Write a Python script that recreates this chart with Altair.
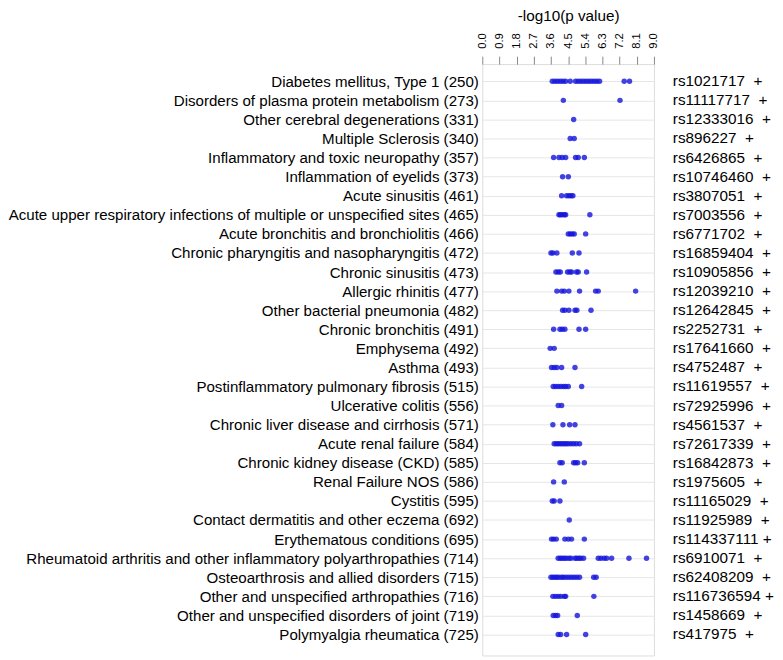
import altair as alt
import pandas as pd

diseases = [
    "Diabetes mellitus, Type 1 (250)",
    "Disorders of plasma protein metabolism (273)",
    "Other cerebral degenerations (331)",
    "Multiple Sclerosis (340)",
    "Inflammatory and toxic neuropathy (357)",
    "Inflammation of eyelids (373)",
    "Acute sinusitis (461)",
    "Acute upper respiratory infections of multiple or unspecified sites (465)",
    "Acute bronchitis and bronchiolitis (466)",
    "Chronic pharyngitis and nasopharyngitis (472)",
    "Chronic sinusitis (473)",
    "Allergic rhinitis (477)",
    "Other bacterial pneumonia (482)",
    "Chronic bronchitis (491)",
    "Emphysema (492)",
    "Asthma (493)",
    "Postinflammatory pulmonary fibrosis (515)",
    "Ulcerative colitis (556)",
    "Chronic liver disease and cirrhosis (571)",
    "Acute renal failure (584)",
    "Chronic kidney disease (CKD) (585)",
    "Renal Failure NOS (586)",
    "Cystitis (595)",
    "Contact dermatitis and other eczema (692)",
    "Erythematous conditions (695)",
    "Rheumatoid arthritis and other inflammatory polyarthropathies (714)",
    "Osteoarthrosis and allied disorders (715)",
    "Other and unspecified arthropathies (716)",
    "Other and unspecified disorders of joint (719)",
    "Polymyalgia rheumatica (725)",
]

snps = [
    "rs1021717", "rs11117717", "rs12333016", "rs896227", "rs6426865",
    "rs10746460", "rs3807051", "rs7003556", "rs6771702", "rs16859404",
    "rs10905856", "rs12039210", "rs12642845", "rs2252731", "rs17641660",
    "rs4752487", "rs11619557", "rs72925996", "rs4561537", "rs72617339",
    "rs16842873", "rs1975605", "rs11165029", "rs11925989", "rs114337111",
    "rs6910071", "rs62408209", "rs116736594", "rs1458669", "rs417975",
]

directions = ["+"] * 30

neg_log_p = [
    [3.67, 3.81, 3.95, 4.09, 4.23, 4.37, 4.61, 4.89, 5.03, 5.17, 5.31, 5.45, 5.59, 5.73, 5.87, 6.01, 6.15, 7.44, 7.72],
    [4.25, 7.22],
    [4.79],
    [4.61, 4.82],
    [3.74, 4.02, 4.19, 4.37, 4.89, 5.03, 5.35],
    [4.21, 4.51],
    [4.16, 4.42, 4.54, 4.65, 4.75],
    [4.02, 4.09, 4.19, 4.30, 4.37, 5.64],
    [4.51, 4.61, 4.72, 4.82, 5.42],
    [3.60, 3.70, 3.91, 4.72, 5.07],
    [3.86, 3.98, 4.09, 4.47, 4.59, 4.68, 4.94, 5.03, 5.47],
    [3.91, 4.16, 4.30, 4.54, 5.10, 5.94, 6.08, 8.04],
    [4.21, 4.33, 4.54, 4.86, 4.96, 5.70],
    [3.74, 4.07, 4.19, 4.33, 5.07, 5.42],
    [3.56, 3.77],
    [3.63, 3.77, 3.91, 4.16, 4.86],
    [3.72, 3.84, 3.98, 4.12, 4.26, 4.37, 4.51, 5.21],
    [3.98, 4.16],
    [3.70, 4.23, 4.58, 4.86],
    [3.77, 3.88, 3.98, 4.09, 4.19, 4.30, 4.40, 4.51, 4.65, 4.79, 4.93, 5.10],
    [4.07, 4.19, 4.79, 4.89, 5.00, 5.35],
    [3.74, 4.30],
    [3.67, 3.77, 4.07],
    [4.56],
    [3.63, 3.74, 3.88, 4.33, 4.51, 4.68, 5.35],
    [3.98, 4.09, 4.19, 4.30, 4.40, 4.54, 4.65, 4.86, 4.96, 5.07, 5.17, 5.31, 6.08, 6.22, 6.39, 6.52, 6.78, 7.69, 8.61],
    [3.60, 3.70, 3.81, 3.91, 4.02, 4.16, 4.26, 4.40, 4.54, 4.68, 4.82, 4.96, 5.10, 5.84, 5.97],
    [3.70, 3.84, 3.98, 4.12, 4.30, 4.37, 5.85],
    [3.72, 3.84, 3.95, 4.98],
    [3.98, 4.11, 4.42, 5.42],
]

tick_values = [0.0, 0.9, 1.8, 2.7, 3.6, 4.5, 5.4, 6.3, 7.2, 8.1, 9.0]

FONT = "Liberation Sans"

points = pd.DataFrame(
    [{"disease": d, "value": v} for d, vals in zip(diseases, neg_log_p) for v in vals]
)
labels = pd.DataFrame({
    "disease": diseases,
    "label": [
        s + ("\u00a0\u00a0" if len(s) <= 10 else "\u00a0") + sign
        for s, sign in zip(snps, directions)
    ],
})

y_enc = alt.Y(
    "disease:N",
    sort=diseases,
    scale=alt.Scale(type="point", padding=1.045, align=0.45),
    axis=alt.Axis(
        title=None, ticks=False, domain=False, grid=True, gridColor="#e6e6e6",
        labelFontSize=15.2, labelPadding=4, labelLimit=1000, labelColor="#000",
        labelFont=FONT,
    ),
)

dots = alt.Chart(points).mark_circle(size=30, color="#1414dc", opacity=0.8).encode(
    x=alt.X(
        "value:Q",
        scale=alt.Scale(domain=[0, 9], nice=False, zero=True),
        axis=alt.Axis(
            orient="top", title="-log10(p value)", values=tick_values, format=".1f",
            labelAngle=-90, labelAlign="left", labelBaseline="middle",
            labelFontSize=11.3, labelFont=FONT, labelColor="#000",
            tickSize=8, tickColor="#888", labelPadding=8, domain=False, grid=False,
            titleFontSize=15.4, titleFont=FONT, titleFontWeight="normal",
            titleColor="#000", titleBaseline="alphabetic", titleY=-44,
            labelFlush=False, labelOverlap=False,
        ),
    ),
    y=y_enc,
)

right = alt.Chart(labels).mark_text(
    align="left", baseline="middle", fontSize=15.4, font=FONT, color="#000"
).encode(
    x=alt.value(192),
    y=alt.Y("disease:N", sort=diseases),
    text="label:N",
)

chart = alt.layer(dots, right).properties(
    width=173,
    height=596,
    autosize=alt.AutoSizeParams(type="none"),
    padding={"left": 478, "top": 54, "right": 122, "bottom": 2},
).configure_view(stroke="#888", strokeWidth=1).configure(font=FONT)

chart.save("out.html", embed_options={"renderer": "svg", "actions": False})
